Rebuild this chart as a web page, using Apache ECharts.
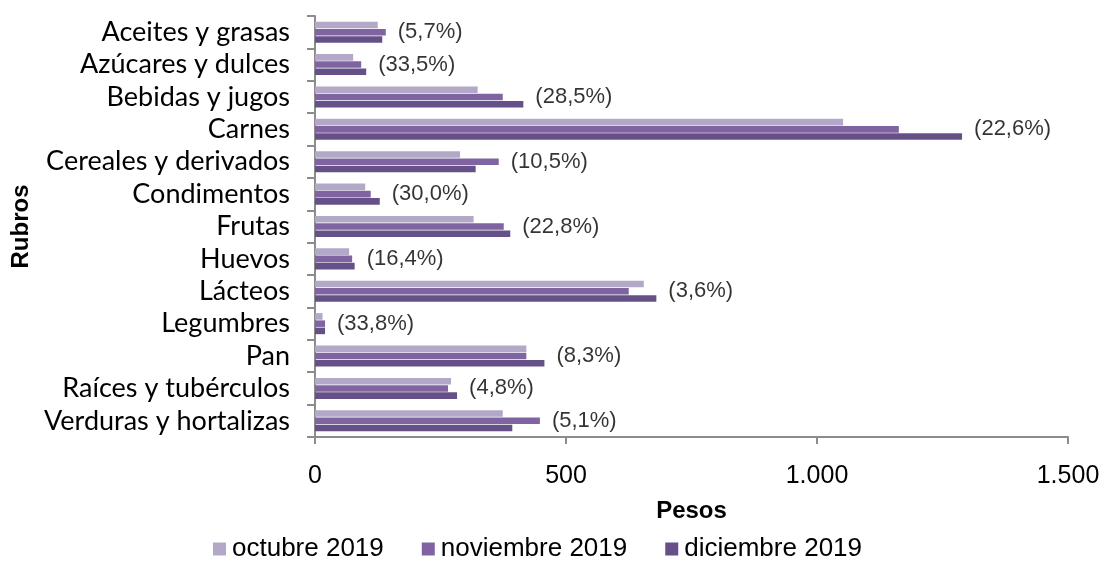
<!DOCTYPE html>
<html>
<head>
<meta charset="utf-8">
<script src="https://cdn.jsdelivr.net/npm/echarts@6/dist/echarts.min.js"></script>
<style>
  html, body { margin: 0; padding: 0; background: #fff; }
  #chart { width: 1105px; height: 561px; }
</style>
</head>
<body>
<div id="chart"></div>
<script>
const rubros = [
  "Aceites y grasas", "Azúcares y dulces", "Bebidas y jugos", "Carnes",
  "Cereales y derivados", "Condimentos", "Frutas", "Huevos", "Lácteos",
  "Legumbres", "Pan", "Raíces y tubérculos", "Verduras y hortalizas"
];
const octubre = [125, 76, 324, 1052, 289, 100, 316, 68, 655, 15, 421, 271, 374];
const noviembre = [141, 92, 374, 1163, 366, 111, 376, 74, 625, 20, 421, 265, 448];
const diciembre = [134, 102, 415, 1289, 320, 129, 389, 79, 680, 20, 457, 283, 393];
const variacion = ["(5,7%)", "(33,5%)", "(28,5%)", "(22,6%)", "(10,5%)", "(30,0%)",
  "(22,8%)", "(16,4%)", "(3,6%)", "(33,8%)", "(8,3%)", "(4,8%)", "(5,1%)"];
const xTicks = [0, 500, 1000, 1500];

const colors = ["#b4a8c8", "#8064a2", "#665088"];
const axisGray = "#8c8c8c";

const chart = echarts.init(document.getElementById("chart"));

// etiqueta de variación a la derecha de la barra más larga de cada rubro
const labelPoints = rubros.map((r, i) => [Math.max(octubre[i], noviembre[i], diciembre[i]), r]);

function barSeries(name, data, color) {
  return {
    name: name,
    type: "bar",
    data: data,
    barGap: "10%",
    barCategoryGap: "35%",
    itemStyle: { color: color },
    silent: true
  };
}

chart.setOption({
  animation: false,
  backgroundColor: "#fff",
  grid: { left: 315, right: 37, top: 16, bottom: 124 },
  legend: {
    data: ["octubre 2019", "noviembre 2019", "diciembre 2019"],
    top: 531,
    left: 208,
    itemWidth: 13,
    itemHeight: 13,
    itemGap: 38,
    icon: "rect",
    textStyle: { fontFamily: "Liberation Sans", fontSize: 26, color: "#000", padding: [0, 0, 0, 1] }
  },
  xAxis: {
    type: "value",
    min: xTicks[0],
    max: xTicks[xTicks.length - 1],
    interval: 500,
    name: "Pesos",
    nameLocation: "middle",
    nameGap: 62,
    nameTextStyle: { fontFamily: "Liberation Sans", fontSize: 24, fontWeight: "bold", color: "#000" },
    splitLine: { show: false },
    axisLine: { show: true, lineStyle: { color: axisGray, width: 2 } },
    axisTick: { show: true, length: 7, lineStyle: { color: axisGray, width: 2 } },
    axisLabel: {
      margin: 27,
      fontFamily: "Liberation Sans",
      fontSize: 25,
      color: "#000",
      formatter: v => String(v).replace(/\B(?=(\d{3})+(?!\d))/g, ".")
    }
  },
  yAxis: {
    type: "category",
    data: rubros,
    inverse: true,
    name: "Rubros",
    nameLocation: "middle",
    nameGap: 280,
    nameTextStyle: { fontFamily: "Liberation Sans", fontSize: 24, fontWeight: "bold", color: "#000" },
    axisLine: { lineStyle: { color: axisGray, width: 2 } },
    axisTick: { show: true, length: 8, interval: 0, alignWithLabel: false, lineStyle: { color: axisGray, width: 2 } },
    axisLabel: { interval: 0, margin: 25, fontFamily: "Lato", fontSize: 27, color: "#000" }
  },
  series: [
    barSeries("octubre 2019", octubre, colors[0]),
    barSeries("noviembre 2019", noviembre, colors[1]),
    barSeries("diciembre 2019", diciembre, colors[2]),
    {
      name: "variacion",
      type: "scatter",
      data: labelPoints,
      symbolSize: 0,
      silent: true,
      label: {
        show: true,
        position: "right",
        distance: 12,
        fontFamily: "Liberation Sans",
        fontSize: 22,
        color: "#000",
        textBorderWidth: 0,
        formatter: p => variacion[p.dataIndex]
      }
    }
  ]
});
</script>
</body>
</html>
